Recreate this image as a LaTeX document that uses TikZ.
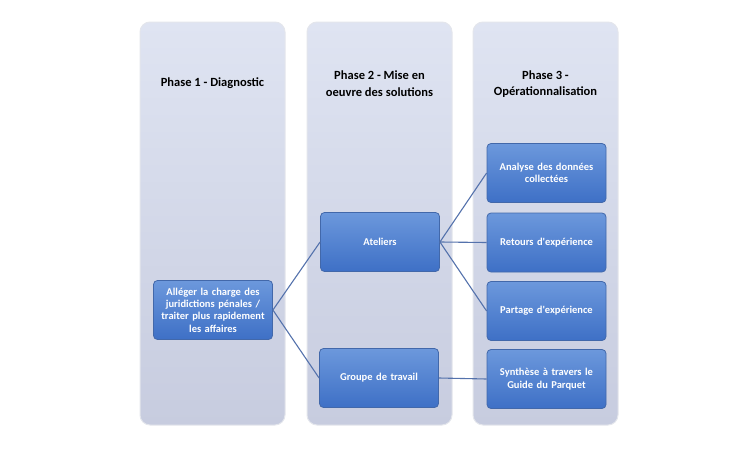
\documentclass[tikz,border=0pt]{standalone}
\usepackage{fontspec}
\newfontfamily\carlito{Carlito}
\definecolor{colTop}{RGB}{223,228,242}
\definecolor{colBot}{RGB}{199,204,223}
\definecolor{colEdge}{RGB}{228,230,236}
\definecolor{boxTop}{RGB}{108,152,220}
\definecolor{boxBot}{RGB}{62,112,198}
\definecolor{boxEdge}{RGB}{66,104,170}
\definecolor{linkCol}{RGB}{84,114,172}
\tikzset{
phasecol/.style={rounded corners=10pt, top color=colTop, bottom color=colBot,
  draw=colEdge, line width=1pt, minimum width=145pt, minimum height=403pt},
phasetitle/.style={font=\carlito\bfseries\fontsize{12.5}{16.5}\selectfont, align=center, text=black},
stepbox/.style={rounded corners=4pt, top color=boxTop, bottom color=boxBot,
  draw=boxEdge, line width=0.8pt, minimum height=59pt, inner sep=2pt,
  align=center, text width=115pt, text=white, font=\carlito\bfseries\fontsize{10.5}{12.3}\selectfont},
link/.style={draw=linkCol, line width=1.1pt}
}
\begin{document}
\begin{tikzpicture}[x=1pt,y=-1pt]
\useasboundingbox (0,0) rectangle (750,450);
% columns
\node[phasecol] (col1) at (212.5,223.5) {};
\node[phasecol] (col2) at (379.5,223.5) {};
\node[phasecol] (col3) at (545.5,223.5) {};
\node[phasetitle] (title1) at (212.5,83) {Phase 1 - Diagnostic};
\node[phasetitle] (title2) at (379.5,83.5) {Phase 2 - Mise en\\oeuvre des solutions};
\node[phasetitle] (title3) at (545.5,84) {Phase 3 -\\Opérationnalisation};

% boxes
\node[stepbox] (goal) at (213,310) {Alléger la charge des\\juridictions pénales /\\traiter plus rapidement\\les affaires};
\node[stepbox] (ateliers) at (380,242) {Ateliers};
\node[stepbox] (groupe) at (379,378) {Groupe de travail};
\node[stepbox] (analyse) at (546.5,173) {Analyse des données\\collectées};
\node[stepbox] (retours) at (546.5,242.5) {Retours d'expérience};
\node[stepbox] (partage) at (546.5,311) {Partage d'expérience};
\node[stepbox] (synthese) at (546.5,379) {Synthèse à travers le\\Guide du Parquet};

% links
\draw[link] (goal.east) -- (ateliers.west);
\draw[link] (goal.east) -- (groupe.west);
\draw[link] (ateliers.east) -- (analyse.west);
\draw[link] (ateliers.east) -- (retours.west);
\draw[link] (ateliers.east) -- (partage.west);
\draw[link] (groupe.east) -- (synthese.west);
\end{tikzpicture}
\end{document}
